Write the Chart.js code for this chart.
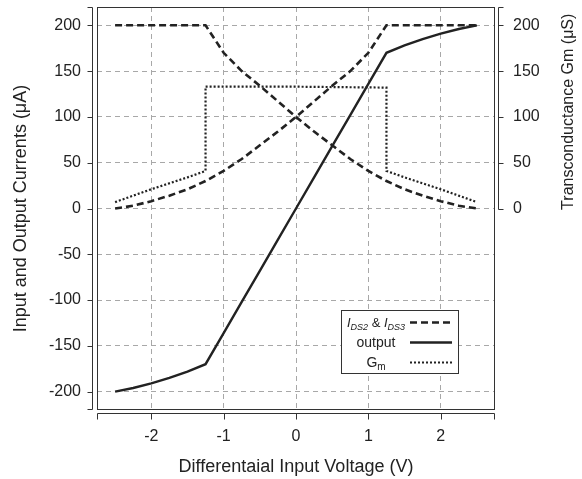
<!DOCTYPE html>
<html><head><meta charset="utf-8">
<script src="https://cdn.jsdelivr.net/npm/chart.js@4.4.1/dist/chart.umd.min.js"></script>
<style>html,body{margin:0;padding:0;background:#fff;}#wrap{width:582px;height:479px;}</style>
</head><body><div id="wrap"><canvas id="c" width="582" height="479"></canvas></div>
<script>
// ---- data ----
const xTicks = [-2, -1, 0, 1, 2];
const yTicks = [-200, -150, -100, -50, 0, 50, 100, 150, 200];
const y2Ticks = [0, 50, 100, 150, 200];
const voltage = [-2.5,-2.25,-2,-1.75,-1.5,-1.25,-1,-0.75,-0.5,-0.25,0,0.25,0.5,0.75,1,1.25,1.5,1.75,2,2.25,2.5];
const iDS2 = [200,200,200,200,200,200,170,150,134,117,100,84,69,54,41,30,21,14,8,3,0];
const iDS3 = [0,3,8,14,21,30,41,54,69,84,100,117,134,150,170,200,200,200,200,200,200];
const output = [-200,-196,-191,-185,-178,-170,-136,-102,-68,-34,0,34,68,102,136,170,178,185,191,196,200];
const gmVoltage = [-2.5,-2,-1.5,-1.25,-1.25,0,1.25,1.25,1.5,2,2.5];
const gm = [7,21,34,41,133,133,132,41,34,21,7];
const legendLabels = ['I_DS2 & I_DS3', 'output', 'G_m'];

const FONT = '"Liberation Sans", Arial, sans-serif';
const INK = '#222';
const pts = (xs, ys) => xs.map((v, i) => ({x: v, y: ys[i]}));
const noPad = s => { s.paddingTop = 0; s.paddingBottom = 0; s.paddingLeft = 0; s.paddingRight = 0; };

const framePlugin = {
  id: 'frame',
  afterDraw(chart) {
    const {ctx, chartArea: a, scales: {x, y, y2}} = chart;
    ctx.save();
    ctx.strokeStyle = '#333';
    ctx.lineWidth = 1;
    // plot box
    ctx.strokeRect(a.left + 0.5, a.top + 0.5, a.right - a.left - 1, a.bottom - a.top - 1);
    ctx.beginPath();
    // left spine
    const lx = a.left - 4.5;
    ctx.moveTo(lx - 5, a.top + 0.5); ctx.lineTo(lx, a.top + 0.5); ctx.lineTo(lx, a.bottom - 0.5); ctx.lineTo(lx - 5, a.bottom - 0.5);
    yTicks.forEach(v => { const p = Math.round(y.getPixelForValue(v)) + 0.5; ctx.moveTo(lx, p); ctx.lineTo(lx - 5, p); });
    // bottom spine
    const by = a.bottom + 3.5;
    ctx.moveTo(a.left + 0.5, by + 6); ctx.lineTo(a.left + 0.5, by); ctx.lineTo(a.right - 0.5, by); ctx.lineTo(a.right - 0.5, by + 6);
    xTicks.forEach(v => { const p = Math.round(x.getPixelForValue(v)) + 0.5; ctx.moveTo(p, by); ctx.lineTo(p, by + 6); });
    // right spine
    const rx = a.right + 3.5;
    const r0 = Math.round(y2.getPixelForValue(0)) + 0.5;
    ctx.moveTo(rx + 5, a.top + 0.5); ctx.lineTo(rx, a.top + 0.5); ctx.lineTo(rx, r0);
    y2Ticks.forEach(v => { const p = Math.round(y2.getPixelForValue(v)) + 0.5; ctx.moveTo(rx, p); ctx.lineTo(rx + 5, p); });
    ctx.stroke();

    // right axis title
    ctx.fillStyle = INK;
    ctx.font = '16px ' + FONT;
    ctx.textAlign = 'center';
    ctx.textBaseline = 'middle';
    ctx.translate(569, (a.top + y2.getPixelForValue(0)) / 2 + 4);
    ctx.rotate(-Math.PI / 2);
    ctx.fillText('Transconductance Gm (\u03bcS)', 0, 0);
    ctx.restore();

    // legend
    ctx.save();
    const L = 341, T = 310, W = 117, H = 63;
    ctx.fillStyle = '#fff';
    ctx.fillRect(L, T, W, H);
    ctx.strokeStyle = '#333';
    ctx.lineWidth = 1;
    ctx.strokeRect(L + 0.5, T + 0.5, W, H);
    const rows = [T + 12, T + 32, T + 52];
    const ds = chart.data.datasets;
    const styles = [ds[0], ds[2], ds[3]];
    ctx.textBaseline = 'alphabetic';
    legendLabels.forEach((lab, i) => {
      const yy = rows[i];
      let pieces;
      if (lab.startsWith('I_')) {
        pieces = [['I', 'italic 13px', 0], ['DS2', 'italic 9px', 3], [' & ', '13px', 0], ['I', 'italic 13px', 0], ['DS3', 'italic 9px', 3]];
      } else if (lab === 'G_m') {
        pieces = [['G', '14px', 0], ['m', '10px', 3]];
      } else {
        pieces = [[lab, '14px', 0]];
      }
      let tw = 0;
      pieces.forEach(p => { ctx.font = p[1] + ' ' + FONT; tw += ctx.measureText(p[0]).width; });
      let cx = 376 - tw / 2;
      ctx.fillStyle = INK;
      pieces.forEach(p => { ctx.font = p[1] + ' ' + FONT; ctx.fillText(p[0], cx, yy + 5 + p[2]); cx += ctx.measureText(p[0]).width; });
      const s = styles[i];
      ctx.strokeStyle = s.borderColor;
      ctx.lineWidth = s.borderWidth;
      ctx.setLineDash(s.borderDash || []);
      ctx.beginPath(); ctx.moveTo(410, yy + 0.5); ctx.lineTo(452, yy + 0.5); ctx.stroke();
    });
    ctx.restore();
  }
};

const dashed = [7, 4];
new Chart(document.getElementById('c'), {
  type: 'line',
  data: {
    datasets: [
      {label: 'I_DS2', data: pts(voltage, iDS2), borderColor: INK, borderWidth: 2.6, borderDash: dashed, pointRadius: 0, yAxisID: 'y', tension: 0},
      {label: 'I_DS3', data: pts(voltage, iDS3), borderColor: INK, borderWidth: 2.6, borderDash: dashed, pointRadius: 0, yAxisID: 'y', tension: 0},
      {label: 'output', data: pts(voltage, output), borderColor: INK, borderWidth: 2.4, pointRadius: 0, yAxisID: 'y', tension: 0},
      {label: 'G_m', data: pts(gmVoltage, gm), borderColor: INK, borderWidth: 2.2, borderDash: [2, 2], pointRadius: 0, yAxisID: 'y2', tension: 0}
    ]
  },
  options: {
    responsive: false,
    animation: false,
    layout: {padding: {top: 7, left: 0, right: 0, bottom: 0}},
    plugins: {legend: {display: false}, tooltip: {enabled: false}},
    scales: {
      x: {
        type: 'linear', min: -2.75, max: 2.75,
        afterBuildTicks: s => { s.ticks = xTicks.map(v => ({value: v})); },
        afterFit: s => { s.height = 69; noPad(s); },
        grid: {color: '#a8a8a8', lineWidth: 1, drawTicks: false},
        border: {display: false, dash: [5, 4]},
        ticks: {padding: 17, color: INK, font: {size: 16, family: FONT}},
        title: {display: true, text: 'Differentaial Input Voltage (V)', color: INK, font: {size: 18, family: FONT}, padding: {top: 0, bottom: 1}}
      },
      y: {
        type: 'linear', position: 'left', min: -220, max: 220,
        afterBuildTicks: s => { s.ticks = yTicks.map(v => ({value: v})); },
        afterFit: s => { s.width = 97; noPad(s); },
        grid: {color: '#a8a8a8', lineWidth: 1, drawTicks: false},
        border: {display: false, dash: [5, 4]},
        ticks: {padding: 16, color: INK, font: {size: 16, family: FONT}},
        title: {display: true, text: 'Input and Output Currents (\u03bcA)', color: INK, font: {size: 18, family: FONT}, padding: {top: 10, bottom: 0}}
      },
      y2: {
        type: 'linear', position: 'right', min: -220, max: 220,
        afterBuildTicks: s => { s.ticks = y2Ticks.map(v => ({value: v})); },
        afterFit: s => { s.width = 87; noPad(s); },
        grid: {display: false, drawTicks: false},
        border: {display: false},
        ticks: {padding: 18, color: INK, font: {size: 16, family: FONT}}
      }
    }
  },
  plugins: [framePlugin]
});
</script>
</body></html>
